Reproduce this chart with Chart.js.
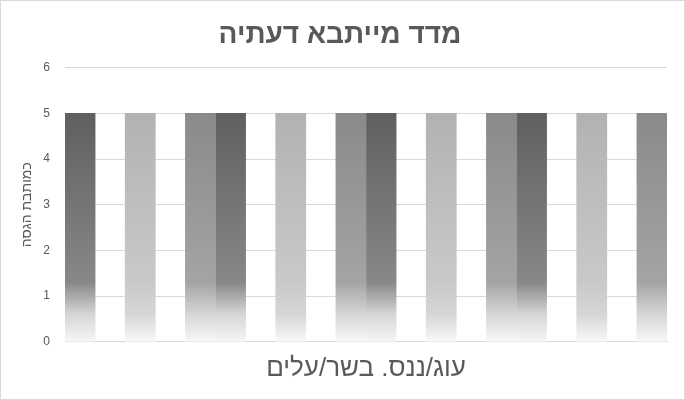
<!DOCTYPE html>
<html lang="he">
<head>
<meta charset="utf-8">
<script src="https://cdn.jsdelivr.net/npm/chart.js@4"></script>
<style>
  html, body { margin: 0; padding: 0; background: #fff; }
  #wrap { width: 685px; height: 400px; box-sizing: border-box; border: 1px solid #d9d9d9; position: relative; }
</style>
</head>
<body>
<div id="wrap"><canvas id="myChart"></canvas></div>
<script>
// נתוני הגרף
const categories = [''];
const seriesNames = ['1', '2', '3', '4', '5', '6', '7', '8', '9', '10',
  '11', '12', '13', '14', '15', '16', '17', '18', '19', '20'];
const seriesValues = [5, 5, 5, 5, 5, 5, 5, 5, 5, 5, 5, 5, 5, 5, 5, 5, 5, 5, 5, 5];
const yTicks = [0, 1, 2, 3, 4, 5, 6];

// צבעי העמודות - חוזרים כל 5 סדרות
const shadePattern = ['dark', 'white', 'light', 'white', 'mid'];
const shades = {
  dark:  ['#5f5f5f', '#888888', '#f6f6f6'],
  mid:   ['#8a8a8a', '#a4a4a4', '#f8f8f8'],
  light: ['#b2b2b2', '#c9c9c9', '#f9f9f9']
};

function barFill(name) {
  return (context) => {
    const chart = context.chart;
    if (name === 'white') return 'rgba(255,255,255,0)';
    if (!chart.chartArea) return shades[name][0];
    const y = chart.scales.y;
    const top = y.getPixelForValue(context.raw);
    const bottom = y.getPixelForValue(0);
    const g = chart.ctx.createLinearGradient(0, top, 0, bottom);
    g.addColorStop(0, shades[name][0]);
    g.addColorStop(0.74, shades[name][1]);
    g.addColorStop(0.88, '#d6d6d6');
    g.addColorStop(1, shades[name][2]);
    return g;
  };
}

const datasets = seriesNames.map((name, i) => {
  const shade = shadePattern[i % shadePattern.length];
  return {
    label: name,
    data: [seriesValues[i]],
    backgroundColor: barFill(shade),
    borderWidth: 0,
    barPercentage: 1,
    categoryPercentage: 1
  };
});

const textColor = '#595959';
const hebFont = '"Liberation Sans", "DejaVu Sans", sans-serif';

const ctx = document.getElementById('myChart').getContext('2d');
const myChart = new Chart(ctx, {
  type: 'bar',
  data: { labels: categories, datasets: datasets },
  options: {
    responsive: true,
    maintainAspectRatio: false,
    animation: false,
    layout: { padding: { left: 12, right: 17, top: 17, bottom: 15 } },
    plugins: {
      legend: { display: false },
      tooltip: { enabled: false },
      title: {
        display: true,
        text: 'מדד מייתבא דעתיה',
        color: textColor,
        font: { family: hebFont, size: 28, weight: 'bold' },
        padding: { top: 0, bottom: 16 }
      }
    },
    scales: {
      x: {
        grid: { display: false },
        border: { color: '#d9d9d9' },
        ticks: { display: false },
        title: {
          display: true,
          text: 'עוג/ננס. בשר/עלים',
          color: textColor,
          font: { family: hebFont, size: 26 },
          padding: { top: 3, bottom: 0 }
        }
      },
      y: {
        min: 0,
        max: 6,
        afterBuildTicks: (axis) => { axis.ticks = yTicks.map(v => ({ value: v })); },
        afterFit: (axis) => { axis.width = 52; },
        grid: { color: '#d9d9d9', drawTicks: false },
        border: { display: false },
        ticks: {
          color: textColor,
          padding: 15,
          font: { family: hebFont, size: 12 }
        },
        title: {
          display: true,
          text: 'כמותבת הגסה',
          color: textColor,
          font: { family: hebFont, size: 14 },
          padding: { top: 6, bottom: 4 }
        }
      }
    }
  }
});
</script>
</body>
</html>
